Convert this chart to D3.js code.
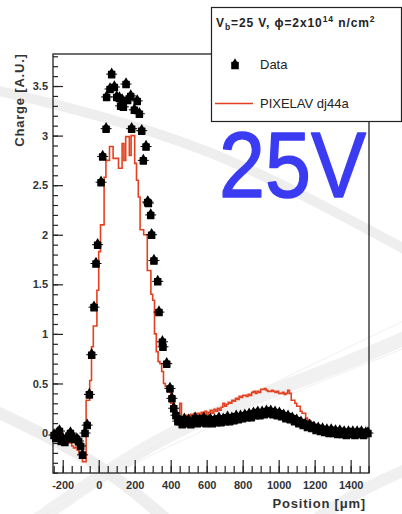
<!DOCTYPE html>
<html><head><meta charset="utf-8">
<script src="https://cdn.jsdelivr.net/npm/d3@7"></script>
<style>
html,body{margin:0;padding:0;background:#fff;}
svg{display:block;font-family:"Liberation Sans",Arial,Helvetica,sans-serif;}
</style></head><body>
<svg id="chart" width="402" height="514"></svg>
<script>
// Measured charge profile (position in µm, charge in arbitrary units)
const dataPos = [
  -248,-238,-228,-218,-208,-198,-188,-176,-165,-157,-148,-136,-122,-112,-100,-90,-76,-64,-52,-39,-26,-15,-6,
  13,22,41,44,63,72,87,100,115,122,130,137,152,161,178,183,198,214,226,239,248,263,272,
  276,289,294,307,328,335,354,357,378,396,407,417,429,440,
  452,464,476,488,500,512,524,536,548,560,572,584,596,608,620,632,644,656,668,680,692,704,716,728,740,
  752,764,776,788,800,812,824,836,848,860,872,884,896,908,920,932,944,956,968,980,992,1004,1016,1028,1040,
  1052,1064,1076,1088,1100,1112,1124,1136,1148,1160,1172,1184,1196,1208,1220,1232,1244,1256,1268,1280,
  1292,1304,1316,1328,1340,1352,1364,1376,1388,1400,1412,1424,1436,1448,1460,1472,1484,1496
];
const dataCharge = [
  -0.02,-0.05,0.00,0.02,-0.08,-0.06,-0.09,-0.05,-0.03,0.00,-0.05,-0.06,-0.06,-0.08,-0.13,-0.22,0.00,0.08,0.39,0.79,1.27,1.71,1.90,
  2.53,2.79,3.07,3.39,3.47,3.62,3.49,3.39,3.38,3.30,3.36,3.29,3.52,3.36,3.40,3.07,3.26,3.35,3.22,3.05,2.75,2.89,2.33,
  2.32,2.20,2.00,1.74,1.53,1.22,0.92,0.87,0.70,0.45,0.35,0.25,0.18,0.12,
  0.12,0.09,0.14,0.10,0.13,0.09,0.12,0.15,0.10,0.13,0.11,0.15,0.10,0.12,0.14,0.10,0.13,0.11,0.15,0.11,0.14,0.12,0.16,0.12,0.15,
  0.13,0.17,0.14,0.17,0.15,0.18,0.16,0.19,0.16,0.20,0.18,0.21,0.18,0.21,0.19,0.22,0.20,0.22,0.19,0.21,0.18,0.20,0.17,0.18,0.15,
  0.17,0.14,0.15,0.12,0.13,0.10,0.11,0.08,0.09,0.06,0.08,0.05,0.06,0.03,0.05,0.02,0.04,0.01,0.03,0.00,
  0.03,0.00,0.02,-0.01,0.02,-0.01,0.01,-0.02,0.01,-0.01,0.01,-0.02,0.01,-0.01,0.01,-0.02,0.00,0.00
];

// PIXELAV simulation histogram: 10 µm bins starting at -250 µm
const simBinStart = -250;
const simBinWidth = 10;
const simCharge = [
  -0.05,-0.05,-0.04,-0.04,-0.04,-0.04,-0.05,-0.08,-0.10,-0.10,
  -0.13,-0.15,-0.15,-0.17,-0.20,-0.22,-0.29,-0.29,0.33,0.33,
  0.53,0.87,1.08,1.08,1.44,1.83,2.10,2.10,2.58,2.75,
  2.75,2.89,2.89,2.77,2.77,2.77,2.67,2.67,2.92,2.75,
  2.99,2.99,2.80,3.00,3.00,2.72,2.55,2.38,2.05,2.05,
  2.00,2.00,1.64,1.64,1.40,1.34,1.00,0.82,0.72,0.70,
  0.62,0.50,0.47,0.47,0.47,0.30,0.30,0.20,0.20,0.20,
  0.30,0.15,0.15,0.15,0.18,0.17,0.19,0.17,0.20,0.18,
  0.20,0.19,0.21,0.18,0.22,0.19,0.21,0.23,0.20,0.24,
  0.22,0.25,0.23,0.26,0.30,0.27,0.29,0.31,0.30,0.33,
  0.32,0.35,0.34,0.37,0.36,0.38,0.38,0.37,0.39,0.38,
  0.41,0.42,0.40,0.42,0.41,0.44,0.44,0.45,0.43,0.42,
  0.42,0.43,0.42,0.41,0.42,0.40,0.40,0.41,0.39,0.40,
  0.43,0.40,0.33,0.33,0.30,0.27,0.27,0.22,0.20,0.20,
  0.15,0.13,0.12,0.10,0.08,0.06,0.06,0.05,0.06,0.05,
  0.03,0.03,0.03,0.02,0.03,0.03,0.02,0.03,0.02,0.03,
  0.02,0.02,0.01,-0.01,-0.02,-0.02,-0.03,-0.02,-0.04,-0.04,
  -0.04,-0.05,-0.04,-0.04,0.01
];

const xMajorTicks = [-200,0,200,400,600,800,1000,1200,1400];
const xTickLabels = ["-200","0","200","400","600","800","1000","1200","1400"];
const yMajorTicks = [0,0.5,1,1.5,2,2.5,3,3.5];
const yTickLabels = ["0","0.5","1","1.5","2","2.5","3","3.5"];

const svg = d3.select("#chart");
svg.append("rect").attr("width",402).attr("height",514).attr("fill","#fff");

// faint decorative swooshes in the background
const swoosh = d3.line().curve(d3.curveBasis);
const bg = svg.append("g").attr("fill","none");
bg.append("path").attr("d", swoosh([[-5,90],[100,115],[210,150],[300,193],[410,252]]))
  .attr("stroke","#eeeeee").attr("stroke-width",10);
bg.append("path").attr("d", swoosh([[30,525],[160,434],[270,392],[340,366],[410,336]]))
  .attr("stroke","#f1f1f1").attr("stroke-width",14);
bg.append("path").attr("d", swoosh([[20,530],[150,452],[280,398],[410,346]]))
  .attr("stroke","#ececec").attr("stroke-width",0.8);
bg.append("path").attr("d", swoosh([[60,500],[200,420],[300,370],[410,318]]))
  .attr("stroke","#ececec").attr("stroke-width",0.8);
bg.append("path").attr("d", swoosh([[-5,411],[97,460],[165,518]]))
  .attr("stroke","#eeeeee").attr("stroke-width",12);
bg.append("path").attr("d", swoosh([[315,520],[360,490],[410,468]]))
  .attr("stroke","#f0f0f0").attr("stroke-width",12);

const x = d3.scaleLinear().domain([-254, 1502]).range([53, 369]);
const y = d3.scaleLinear().domain([-0.403, 3.823]).range([473, 54]);

// frame
svg.append("rect").attr("x",53).attr("y",54).attr("width",316).attr("height",419)
  .attr("fill","none").attr("stroke","#222").attr("stroke-width",1.3);

// x axis: minor + major ticks pointing into the frame
const xMinor = d3.range(-250, 1501, 50);
const xAxisMinor = d3.axisBottom(x).tickValues(xMinor).tickSizeInner(-7).tickSizeOuter(0).tickFormat("");
const xAxisMajor = d3.axisBottom(x).tickValues(xMajorTicks).tickSizeInner(-13).tickSizeOuter(0)
  .tickPadding(8).tickFormat((d,i) => xTickLabels[i]);
const gxm = svg.append("g").attr("transform","translate(0,473)").call(xAxisMinor);
const gx = svg.append("g").attr("transform","translate(0,473)").call(xAxisMajor);
[gxm,gx].forEach(g => { g.select(".domain").remove(); g.selectAll("line").attr("stroke","#222").attr("stroke-width",1.2); });
gx.selectAll("text").attr("font-size",11).attr("font-weight","bold").attr("fill","#333")
  .attr("font-family","Liberation Sans, Arial, sans-serif");

// y axis
const yMinor = d3.range(-4, 39).map(v => v / 10);
const yAxisMinor = d3.axisLeft(y).tickValues(yMinor).tickSizeInner(-5).tickSizeOuter(0).tickFormat("");
const yAxisMajor = d3.axisLeft(y).tickValues(yMajorTicks).tickSizeInner(-10).tickSizeOuter(0)
  .tickPadding(5).tickFormat((d,i) => yTickLabels[i]);
const gym = svg.append("g").attr("transform","translate(53,0)").call(yAxisMinor);
const gy = svg.append("g").attr("transform","translate(53,0)").call(yAxisMajor);
[gym,gy].forEach(g => { g.select(".domain").remove(); g.selectAll("line").attr("stroke","#222").attr("stroke-width",1.2); });
gy.selectAll("text").attr("font-size",11).attr("font-weight","bold").attr("fill","#333")
  .attr("font-family","Liberation Sans, Arial, sans-serif");

// axis titles
svg.append("text").attr("transform","translate(24,100) rotate(-90)").attr("text-anchor","middle")
  .attr("font-size",13).attr("font-weight","bold").attr("letter-spacing",0.8).attr("fill","#333")
  .text("Charge [A.U.]");
svg.append("text").attr("x",366).attr("y",508).attr("text-anchor","end")
  .attr("font-size",13).attr("font-weight","bold").attr("letter-spacing",0.8).attr("fill","#333")
  .text("Position [\u03bcm]");

// simulation histogram as a step line
const simEdges = simCharge.map((v,i) => [simBinStart + i*simBinWidth, v]);
simEdges.push([simBinStart + simCharge.length*simBinWidth, simCharge[simCharge.length-1]]);
const step = d3.line().x(d => x(d[0])).y(d => y(d[1])).curve(d3.curveStepAfter);
svg.append("path").attr("d", step(simEdges)).attr("fill","none")
  .attr("stroke","#e4401f").attr("stroke-width",1.6);

// data markers: compact filled blob with short horizontal error bar
const blob = d3.symbol().type(d3.symbolSquare).size(40);
const cap = d3.symbol().type(d3.symbolTriangle).size(16);
function marker(g, cx, cy, bar) {
  if (bar) g.append("line").attr("x1",cx-5.5).attr("x2",cx+5.5).attr("y1",cy).attr("y2",cy)
    .attr("stroke","#000").attr("stroke-width",1);
  g.append("path").attr("d", blob()).attr("transform",`translate(${cx},${cy+0.5})`)
    .attr("fill","#000").attr("stroke","#000").attr("stroke-width",1.2).attr("stroke-linejoin","round");
  g.append("path").attr("d", cap()).attr("transform",`translate(${cx},${cy-3.2})`)
    .attr("fill","#000");
}
const pts = svg.append("g");
dataPos.forEach((p,i) => marker(pts, x(p), y(dataCharge[i]), true));

// legend
const lg = svg.append("g");
lg.append("rect").attr("x",211.5).attr("y",7.5).attr("width",190).attr("height",114)
  .attr("fill","#fff").attr("stroke","#222").attr("stroke-width",1.2);
const title = lg.append("text").attr("x",216).attr("y",27).attr("font-size",12)
  .attr("font-weight","bold").attr("letter-spacing",0.9).attr("fill","#222");
title.append("tspan").text("V");
title.append("tspan").attr("dy",3).attr("font-size",8.5).text("b");
title.append("tspan").attr("dy",-3).text("=25 V, \u03d5=2x10");
title.append("tspan").attr("dy",-5).attr("font-size",8.5).text("14");
title.append("tspan").attr("dy",5).text(" n/cm");
title.append("tspan").attr("dy",-5).attr("font-size",8.5).text("2");
marker(lg, 235, 65, false);
lg.append("text").attr("x",260).attr("y",69).attr("font-size",13).attr("fill","#222").text("Data");
lg.append("line").attr("x1",215).attr("x2",253).attr("y1",103.5).attr("y2",103.5)
  .attr("stroke","#e4401f").attr("stroke-width",1.5);
lg.append("text").attr("x",260).attr("y",108).attr("font-size",13).attr("fill","#222").text("PIXELAV dj44a");

// voltage annotation
svg.append("text").attr("x",219).attr("y",197).attr("font-size",92)
  .attr("textLength",147).attr("lengthAdjust","spacingAndGlyphs")
  .attr("fill","#3b3bf2").attr("stroke","#3b3bf2").attr("stroke-width",1.5).attr("stroke-linejoin","round")
  .text("25V");
</script>
</body></html>
